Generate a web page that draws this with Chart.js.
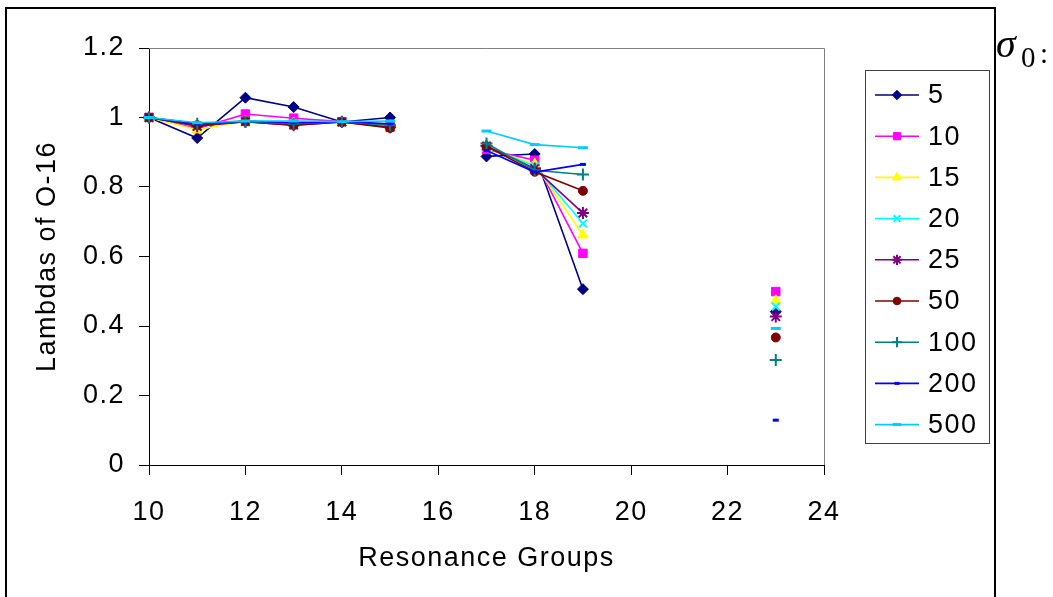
<!DOCTYPE html>
<html>
<head>
<meta charset="utf-8">
<script src="https://cdn.jsdelivr.net/npm/chart.js@4.4.1/dist/chart.umd.min.js"></script>
<style>
  html, body { margin: 0; padding: 0; background: #fff; }
  #wrap { width: 1053px; height: 597px; }
</style>
</head>
<body>
<div id="wrap"><canvas id="chart" width="1053" height="597"></canvas></div>
<script>
// resonance groups (x positions), null = no value in that group
const groups = [10, 11, 12, 13, 14, 15, 16, 17, 18, 19, 20, 21, 22, 23]

const s5   = [1.000, 0.941, 1.057, 1.030, 0.987, 1.000, null, 0.888, 0.895, 0.506, null, null, null, 0.441]
const s10  = [1.000, 0.968, 1.010, 0.998, 0.988, 0.975, null, 0.908, 0.877, 0.609, null, null, null, 0.499]
const s15  = [1.000, 0.965, 0.990, 0.984, 0.987, 0.970, null, 0.912, 0.866, 0.662, null, null, null, 0.473]
const s20  = [1.000, 0.975, 0.990, 0.983, 0.987, 0.975, null, 0.915, 0.860, 0.695, null, null, null, 0.456]
const s25  = [1.000, 0.975, 0.988, 0.978, 0.987, 0.972, null, 0.918, 0.853, 0.725, null, null, null, 0.427]
const s50  = [1.000, 0.978, 0.988, 0.978, 0.987, 0.970, null, 0.917, 0.844, 0.789, null, null, null, 0.367]
const s100 = [1.000, 0.982, 0.988, 0.982, 0.988, 0.978, null, 0.925, 0.848, 0.836, null, null, null, 0.302]
const s200 = [1.000, 0.982, 0.990, 0.985, 0.988, 0.982, null, 0.905, 0.843, 0.865, null, null, null, 0.129]
const s500 = [1.000, 0.985, 0.990, 0.990, 0.988, 0.990, null, 0.961, 0.922, 0.913, null, null, null, 0.393]

const seriesLabels = ['5', '10', '15', '20', '25', '50', '100', '200', '500']
const xTicks = [10, 12, 14, 16, 18, 20, 22, 24]
const yTicks = [0, 0.2, 0.4, 0.6, 0.8, 1, 1.2]

const FONT = "'Liberation Sans', Arial, sans-serif"

const styles = [
  { color: '#000080', pointStyle: 'rectRot',  radius: 5.5, bw: 1 },
  { color: '#FF00FF', pointStyle: 'rect',     radius: 6,   bw: 1 },
  { color: '#FFFF00', pointStyle: 'triangle', radius: 6,   bw: 1 },
  { color: '#00FFFF', pointStyle: 'crossRot', radius: 5.5, bw: 2 },
  { color: '#800080', pointStyle: 'star',     radius: 6,   bw: 2 },
  { color: '#800000', pointStyle: 'circle',   radius: 4.5, bw: 1 },
  { color: '#008080', pointStyle: 'cross',    radius: 6,   bw: 2 },
  { color: '#0000FF', pointStyle: 'line',     radius: 3,   bw: 3 },
  { color: '#00CCFF', pointStyle: 'line',     radius: 5,   bw: 3 }
]

const allSeries = [s5, s10, s15, s20, s25, s50, s100, s200, s500]

const datasets = allSeries.map((values, i) => ({
  label: seriesLabels[i],
  data: groups.map((g, j) => ({ x: g, y: values[j] })),
  borderColor: styles[i].color,
  backgroundColor: styles[i].color,
  borderWidth: 1.6,
  pointStyle: styles[i].pointStyle,
  pointRadius: styles[i].radius,
  pointBorderWidth: styles[i].bw,
  pointBorderColor: styles[i].color,
  pointBackgroundColor: styles[i].color,
  spanGaps: false,
  tension: 0,
  clip: false,
  // later series drawn on top, like the original
  order: -i
}))

// frame, legend box and sigma label
const decorPlugin = {
  id: 'decor',
  beforeLayout(chart) {
    chart.ctx.letterSpacing = '1.5px'
  },
  beforeDraw(chart) {
    chart.ctx.letterSpacing = '1.5px'
  },
  beforeDatasetsDraw(chart) {
    const { ctx, chartArea: a } = chart
    ctx.save()
    ctx.strokeStyle = '#808080'
    ctx.lineWidth = 1
    ctx.beginPath()
    ctx.moveTo(a.left, a.top + 0.5)
    ctx.lineTo(a.right + 0.5, a.top + 0.5)
    ctx.lineTo(a.right + 0.5, a.bottom)
    ctx.stroke()
    ctx.restore()
  },
  afterDraw(chart) {
    const ctx = chart.ctx
    ctx.save()
    // outer border
    ctx.strokeStyle = '#000'
    ctx.lineWidth = 2
    ctx.strokeRect(6, 8, 989, 700)

    // legend box
    ctx.lineWidth = 1
    ctx.strokeStyle = '#404040'
    ctx.strokeRect(865.5, 70.5, 124, 373)

    const rowY0 = 95, rowStep = 41.2
    chart.data.datasets.forEach((ds, i) => {
      const y = rowY0 + i * rowStep
      const st = styles[i]
      ctx.strokeStyle = st.color
      ctx.lineWidth = 1.6
      ctx.beginPath()
      ctx.moveTo(875, y)
      ctx.lineTo(919, y)
      ctx.stroke()
      ctx.fillStyle = st.color
      ctx.lineWidth = st.bw
      Chart.helpers.drawPoint(ctx, {
        pointStyle: st.pointStyle,
        radius: st.radius * 0.85,
        rotation: 0,
        borderWidth: st.bw
      }, 897, y)
      ctx.fillStyle = '#000'
      ctx.font = '27px ' + FONT
      ctx.textAlign = 'left'
      ctx.textBaseline = 'middle'
      ctx.fillText(ds.label, 928, y + 1)
    })

    // sigma_0 :
    ctx.letterSpacing = '0px'
    ctx.fillStyle = '#000'
    ctx.textAlign = 'left'
    ctx.textBaseline = 'alphabetic'
    ctx.font = "italic 40px 'Liberation Serif', 'Times New Roman', serif"
    ctx.fillText('σ', 996, 57)
    ctx.font = "29px 'Liberation Serif', 'Times New Roman', serif"
    ctx.fillText('0', 1021, 67)
    ctx.fillText(':', 1040, 63)
    ctx.restore()
  }
}

new Chart(document.getElementById('chart'), {
  type: 'line',
  data: { datasets },
  plugins: [decorPlugin],
  options: {
    responsive: false,
    animation: false,
    devicePixelRatio: 1,
    layout: { padding: { left: 0, right: 229, top: 48, bottom: 0 } },
    plugins: {
      legend: { display: false },
      tooltip: { enabled: false }
    },
    scales: {
      x: {
        type: 'linear',
        min: 10,
        max: 24,
        afterFit(scale) { scale.height = 132 },
        afterBuildTicks(scale) { scale.ticks = xTicks.map(v => ({ value: v })) },
        border: { display: true, color: '#000', width: 1 },
        grid: { drawOnChartArea: false, drawTicks: true, tickLength: 10, color: '#000' },
        ticks: { color: '#000', font: { family: FONT, size: 27 }, padding: 21, maxRotation: 0 },
        title: {
          display: true,
          text: 'Resonance Groups',
          color: '#000',
          font: { family: FONT, size: 27 },
          padding: { top: 0, bottom: 22 }
        }
      },
      y: {
        type: 'linear',
        min: 0,
        max: 1.2,
        afterFit(scale) { scale.width = 149 },
        afterBuildTicks(scale) { scale.ticks = yTicks.map(v => ({ value: v })) },
        border: { display: true, color: '#000', width: 1 },
        grid: { drawOnChartArea: false, drawTicks: true, tickLength: 10, color: '#000' },
        ticks: {
          color: '#000',
          font: { family: FONT, size: 27 },
          padding: 14,
          callback: v => String(Math.round(v * 10) / 10)
        },
        title: {
          display: true,
          text: 'Lambdas of O-16',
          color: '#000',
          font: { family: FONT, size: 27 },
          padding: { top: 31, bottom: 0 }
        }
      }
    }
  }
})
</script>
</body>
</html>
